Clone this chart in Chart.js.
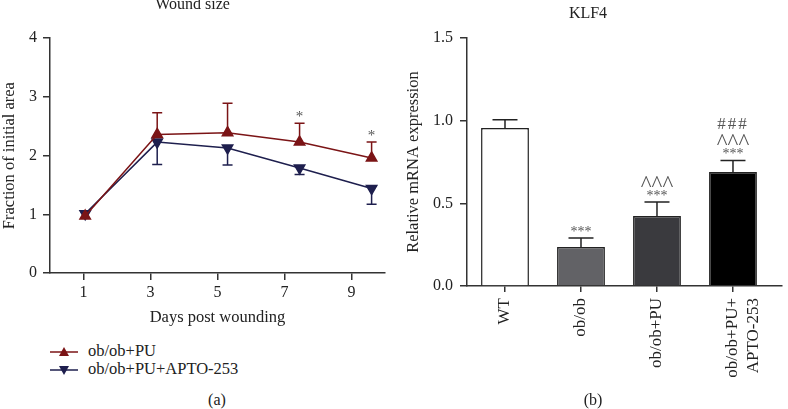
<!DOCTYPE html>
<html>
<head>
<meta charset="utf-8">
<script src="https://cdn.jsdelivr.net/npm/chart.js@4/dist/chart.umd.min.js"></script>
<style>
  body { margin: 0; background: #fff; width: 788px; height: 409px; overflow: hidden; position: relative; font-family: 'Liberation Serif', serif; color: #222; }
  #woundWrap { position: absolute; left: 0; top: -5px; width: 400px; height: 340px; }
  #klfWrap { position: absolute; left: 394px; top: 0; width: 394px; height: 390px; }
  .legenda { position: absolute; left: 50px; font-size: 16.5px; height: 18px; line-height: 18px; white-space: nowrap; }
  .legenda svg { vertical-align: middle; margin-right: 8px; }
  .painel { position: absolute; top: 391px; font-size: 16px; width: 40px; text-align: center; }
</style>
</head>
<body>
<div id="woundWrap"><canvas id="woundChart"></canvas></div>
<div id="klfWrap"><canvas id="klfChart"></canvas></div>

<div class="legenda" style="top:342px;">
  <svg width="30" height="12"><line x1="0" y1="6" x2="28" y2="6" stroke="#7b1416" stroke-width="1.5"/><polygon points="14,1 19,10 9,10" fill="#7b1416"/></svg>ob/ob+PU
</div>
<div class="legenda" style="top:360px;">
  <svg width="30" height="12"><line x1="0" y1="6" x2="28" y2="6" stroke="#1e1f4e" stroke-width="1.5"/><polygon points="9,2 19,2 14,11" fill="#1e1f4e"/></svg>ob/ob+PU+APTO-253
</div>
<div class="painel" style="left:197px;">(a)</div>
<div class="painel" style="left:573px;">(b)</div>

<script>
// ---- dados do painel (a)
const dias = [1.05, 3.2, 5.3, 7.45, 9.6];
const diasTicks = [1, 3, 5, 7, 9];
const mediaPU = [0.97, 2.36, 2.39, 2.23, 1.96];
const erroPU = [0, 0.37, 0.5, 0.32, 0.27];
const mediaAPTO = [1.01, 2.23, 2.13, 1.79, 1.44];
const erroAPTO = [0, 0.38, 0.29, 0.11, 0.27];
const sigPU = ['', '', '', '*', '*'];

// ---- dados do painel (b)
const grupos = ['WT', 'ob/ob', 'ob/ob+PU', ['ob/ob+PU+', 'APTO-253']];
const klf4 = [0.957, 0.236, 0.424, 0.69];
const erroKlf4 = [0.05, 0.055, 0.085, 0.07];
const marcasKlf4 = [[], ['***'], ['***', '^^^'], ['***', '^^^', '###']];
const yTicksKlf4 = [0, 0.5, 1.0, 1.5];

const corPU = '#7b1416';
const corAPTO = '#1e1f4e';
const corEixo = '#333';

Chart.defaults.font.family = "'Liberation Serif', serif";
Chart.defaults.font.size = 16;
Chart.defaults.color = '#222';

// tamanho e "altura do centro" (acima da baseline) de cada anotacao
const fonteMarca = {
    '*': { size: 15, sobe: 7 },
    '***': { size: 14, sobe: 7 },
    '^^^': { size: 23, sobe: 11 },
    '###': { size: 17, sobe: 6 }
};
const distMarca = [9, 22, 37]; // distancia do topo da barra de erro ate o centro de cada linha

// barras de erro (só um lado) + anotacoes
const errorBars = {
    id: 'errorBars',
    beforeDatasetsDraw(chart) {
        const ctx = chart.ctx;
        const y = chart.scales.y;
        chart.data.datasets.forEach((ds, di) => {
            if (!ds.erro) return;
            const meta = chart.getDatasetMeta(di);
            meta.data.forEach((el, i) => {
                if (!ds.erro[i]) return;
                const val = ds.data[i].y;
                const fim = y.getPixelForValue(val + ds.lado * ds.erro[i]);
                const ini = y.getPixelForValue(val);
                ctx.save();
                ctx.strokeStyle = ds.corErro;
                ctx.lineWidth = 1.5;
                ctx.beginPath();
                ctx.moveTo(el.x, ini);
                ctx.lineTo(el.x, fim);
                ctx.moveTo(el.x - ds.cap, fim);
                ctx.lineTo(el.x + ds.cap, fim);
                ctx.stroke();
                ctx.restore();
            });
        });
    },
    afterDatasetsDraw(chart) {
        const ctx = chart.ctx;
        const y = chart.scales.y;
        chart.data.datasets.forEach((ds, di) => {
            if (!ds.marcas) return;
            const meta = chart.getDatasetMeta(di);
            meta.data.forEach((el, i) => {
                const linhas = ds.marcas[i] || [];
                const topo = y.getPixelForValue(ds.data[i].y + ds.erro[i]);
                ctx.save();
                ctx.fillStyle = '#555';
                ctx.textAlign = 'center';
                ctx.textBaseline = 'alphabetic';
                linhas.forEach((txt, k) => {
                    const f = fonteMarca[txt];
                    ctx.font = f.size + "px 'Liberation Serif'";
                    ctx.letterSpacing = txt === '###' ? '2px' : '0px';
                    ctx.fillText(txt, el.x, topo - distMarca[k] + f.sobe);
                });
                ctx.restore();
            });
        });
    }
};

function renderWound() {
    const ctx = document.getElementById('woundChart').getContext('2d');
    new Chart(ctx, {
        type: 'line',
        data: {
            datasets: [
                {
                    label: 'ob/ob+PU',
                    data: dias.map((d, i) => ({ x: d, y: mediaPU[i] })),
                    borderColor: corPU,
                    backgroundColor: corPU,
                    borderWidth: 1.5,
                    pointStyle: 'triangle',
                    pointRadius: 6,
                    erro: erroPU,
                    lado: 1,
                    cap: 5,
                    corErro: corPU,
                    marcas: sigPU.map(s => s ? [s] : [])
                },
                {
                    label: 'ob/ob+PU+APTO-253',
                    data: dias.map((d, i) => ({ x: d, y: mediaAPTO[i] })),
                    borderColor: corAPTO,
                    backgroundColor: corAPTO,
                    borderWidth: 1.5,
                    pointStyle: 'triangle',
                    rotation: 180,
                    pointRadius: 6,
                    erro: erroAPTO,
                    lado: -1,
                    cap: 5,
                    corErro: corAPTO
                }
            ]
        },
        options: {
            responsive: true,
            maintainAspectRatio: false,
            animation: false,
            layout: { padding: { left: 0, right: 15, top: 0, bottom: 0 } },
            plugins: {
                legend: { display: false },
                tooltip: { enabled: false },
                title: {
                    display: true,
                    text: 'Wound size',
                    font: { size: 16, weight: 'normal' },
                    padding: { top: 0, bottom: 24 }
                }
            },
            scales: {
                x: {
                    type: 'linear',
                    min: 0,
                    max: 10,
                    afterBuildTicks: (s) => { s.ticks = diasTicks.map(v => ({ value: v })); },
                    afterFit: (s) => { s.height = 62; },
                    grid: { drawOnChartArea: false, tickLength: 7, color: corEixo, lineWidth: 1.5 },
                    border: { color: corEixo, width: 1.5 },
                    ticks: { padding: 3 },
                    title: { display: true, text: 'Days post wounding', font: { size: 16.5 }, padding: { top: 0, bottom: 7 } }
                },
                y: {
                    min: 0,
                    max: 4,
                    ticks: { stepSize: 1, padding: 6 },
                    afterFit: (s) => { s.width = 50; },
                    grid: { drawOnChartArea: false, tickLength: 7, color: corEixo, lineWidth: 1.5 },
                    border: { color: corEixo, width: 1.5 },
                    title: { display: true, text: 'Fraction of initial area', font: { size: 16.5 }, padding: { top: 0, bottom: 0 } }
                }
            }
        },
        plugins: [errorBars]
    });
}

function renderKlf4() {
    const ctx = document.getElementById('klfChart').getContext('2d');
    new Chart(ctx, {
        type: 'bar',
        data: {
            datasets: [{
                label: 'KLF4',
                data: klf4.map((v, i) => ({ x: i, y: v })),
                backgroundColor: ['#ffffff', '#626266', '#3a3a3e', '#000000'],
                borderColor: '#222',
                borderWidth: 1.5,
                barPercentage: 0.63,
                categoryPercentage: 1,
                erro: erroKlf4,
                lado: 1,
                cap: 12.5,
                corErro: '#222',
                marcas: marcasKlf4
            }]
        },
        options: {
            responsive: true,
            maintainAspectRatio: false,
            animation: false,
            layout: { padding: { left: 0, right: 6, top: 0, bottom: 0 } },
            plugins: {
                legend: { display: false },
                tooltip: { enabled: false },
                title: {
                    display: true,
                    text: 'KLF4',
                    font: { size: 16, weight: 'normal' },
                    padding: { top: 4, bottom: 15 }
                }
            },
            scales: {
                x: {
                    type: 'linear',
                    offset: false,
                    min: -0.5,
                    max: 3.645,
                    afterBuildTicks: (s) => { s.ticks = grupos.map((g, i) => ({ value: i })); },
                    afterFit: (s) => { s.height = 104; },
                    grid: { drawOnChartArea: false, offset: false, tickLength: 6, color: corEixo, lineWidth: 1.5 },
                    border: { color: corEixo, width: 1.5 },
                    ticks: {
                        autoSkip: false,
                        minRotation: 90,
                        maxRotation: 90,
                        padding: 6,
                        font: { size: 17 },
                        callback: (v) => grupos[v]
                    }
                },
                y: {
                    min: 0,
                    max: 1.5,
                    afterBuildTicks: (s) => { s.ticks = yTicksKlf4.map(v => ({ value: v })); },
                    afterFit: (s) => { s.width = 73; },
                    ticks: { padding: 7, callback: (v) => Number(v).toFixed(1) },
                    grid: { drawOnChartArea: false, tickLength: 7, color: corEixo, lineWidth: 1.5 },
                    border: { color: corEixo, width: 1.5 },
                    title: { display: true, text: 'Relative mRNA expression', font: { size: 16.5 }, padding: { top: 10, bottom: 0 } }
                }
            }
        },
        plugins: [errorBars]
    });
}

renderWound();
renderKlf4();
</script>
</body>
</html>
